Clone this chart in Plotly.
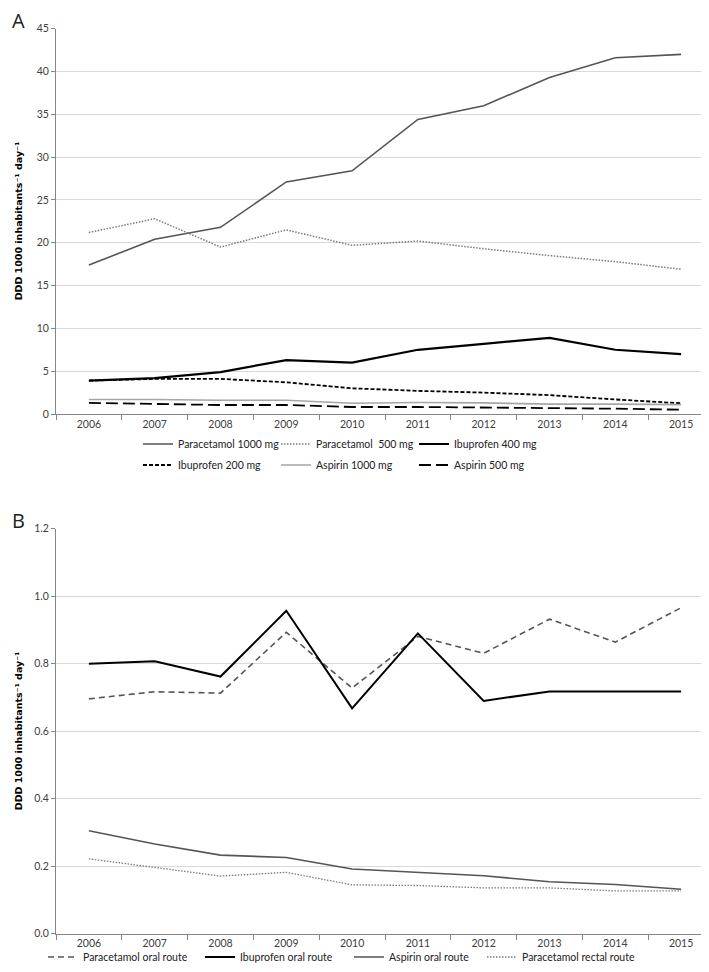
import plotly.graph_objects as go

years = ["2006", "2007", "2008", "2009", "2010", "2011", "2012", "2013", "2014", "2015"]

# Panel A
para_1000 = [17.4, 20.4, 21.8, 27.1, 28.4, 34.4, 36.0, 39.3, 41.6, 42.0]
para_500 = [21.2, 22.8, 19.5, 21.5, 19.7, 20.2, 19.3, 18.5, 17.8, 16.9]
ibu_400 = [3.9, 4.2, 4.9, 6.3, 6.0, 7.5, 8.2, 8.9, 7.5, 7.0]
ibu_200 = [3.9, 4.1, 4.1, 3.7, 3.0, 2.7, 2.5, 2.2, 1.7, 1.25]
asp_1000 = [1.7, 1.7, 1.6, 1.6, 1.25, 1.35, 1.3, 1.15, 1.15, 1.1]
asp_500 = [1.3, 1.15, 1.05, 1.05, 0.82, 0.82, 0.78, 0.74, 0.62, 0.5]

# Panel B
para_oral = [0.696, 0.717, 0.713, 0.893, 0.728, 0.881, 0.831, 0.932, 0.864, 0.966]
ibu_oral = [0.800, 0.807, 0.762, 0.957, 0.668, 0.890, 0.690, 0.718, 0.718, 0.718]
asp_oral = [0.305, 0.266, 0.233, 0.226, 0.192, 0.182, 0.172, 0.154, 0.146, 0.132]
para_rectal = [0.222, 0.196, 0.171, 0.182, 0.145, 0.143, 0.136, 0.136, 0.127, 0.127]

yticks_a = [0, 5, 10, 15, 20, 25, 30, 35, 40, 45]
yticks_b = [0.0, 0.2, 0.4, 0.6, 0.8, 1.0, 1.2]

W, H = 709, 972
FONT = "Lato"

fig = go.Figure()

def add(y, name, color, width, dash, xa, ya, legend, lw=None):
    fig.add_trace(go.Scatter(
        x=years, y=y, name=name, mode="lines",
        line=dict(color=color, width=width, dash=dash),
        xaxis=xa, yaxis=ya, legend=legend, hoverinfo="skip",
        legendwidth=lw,
    ))

add(para_1000, "Paracetamol 1000 mg", "#555555", 1.6, "solid", "x", "y", "legend")
add(para_500, "Paracetamol  500 mg", "#7a7a7a", 1.5, "1.5px,1.5px", "x", "y", "legend")
add(ibu_400, "Ibuprofen 400 mg", "#000000", 2.2, "solid", "x", "y", "legend")
add(ibu_200, "Ibuprofen 200 mg", "#000000", 1.8, "4px,2px", "x", "y", "legend2")
add(asp_1000, "Aspirin 1000 mg", "#a6a6a6", 1.6, "solid", "x", "y", "legend2")
add(asp_500, "Aspirin 500 mg", "#000000", 1.8, "12px,5px", "x", "y", "legend2")

add(para_oral, "Paracetamol oral route", "#555555", 1.6, "6px,4px", "x2", "y2", "legend3", 112)
add(ibu_oral, "Ibuprofen oral route", "#000000", 2.0, "solid", "x2", "y2", "legend3", 104)
add(asp_oral, "Aspirin oral route", "#555555", 1.6, "solid", "x2", "y2", "legend3", 88)
add(para_rectal, "Paracetamol rectal route", "#7a7a7a", 1.3, "1.5px,1.5px", "x2", "y2", "legend3", 110)

L, R = 48, 3
plot_w = W - L - R

def px_x(p):
    return (p - L) / plot_w

def px_y(p):
    return 1 - p / H

def ydom(top_px, bottom_px):
    return [px_y(bottom_px), px_y(top_px)]

axis_line = "#868686"
grid = "#d9d9d9"
tickfont = dict(family=FONT, size=10.5, color="#404040")

xcommon = dict(type="category", range=[-0.5, 9.5], showline=True, linecolor=axis_line,
               linewidth=1, ticks="outside", tickson="boundaries", ticklen=5,
               tickcolor=axis_line, showgrid=False, tickfont=tickfont, zeroline=False,
               fixedrange=True)
ycommon = dict(showline=True, linecolor=axis_line, linewidth=1, ticks="outside",
               ticklen=4, tickcolor=axis_line, showgrid=True, gridcolor=grid,
               gridwidth=1, tickfont=tickfont, zeroline=False, fixedrange=True)

legfont = dict(family=FONT, size=10.5, color="#222222")

fig.update_layout(
    width=W, height=H,
    margin=dict(l=L, r=R, t=0, b=0, autoexpand=False),
    paper_bgcolor="white", plot_bgcolor="white",
    xaxis=dict(**xcommon, domain=[0, 1], anchor="y"),
    yaxis=dict(**ycommon, domain=ydom(20.7, 406), range=[0, 45], tickvals=yticks_a, anchor="x"),
    xaxis2=dict(**xcommon, domain=[0, 1], anchor="y2"),
    yaxis2=dict(**ycommon, domain=ydom(520.7, 925.8), range=[0, 1.2], tickvals=yticks_b,
                tickformat=".1f", anchor="x2"),
    legend=dict(orientation="h", x=px_x(130), xanchor="left",
                y=px_y(436), yanchor="middle",
                entrywidth=93, font=legfont, bgcolor="rgba(0,0,0,0)",
                itemwidth=30, tracegroupgap=0),
    legend2=dict(orientation="h", x=px_x(130), xanchor="left",
                 y=px_y(457), yanchor="middle",
                 entrywidth=93, font=legfont, bgcolor="rgba(0,0,0,0)",
                 itemwidth=30, tracegroupgap=0),
    legend3=dict(orientation="h", x=332 / W, xref="container", xanchor="center",
                 y=px_y(949), yanchor="middle",
                 font=legfont, bgcolor="rgba(0,0,0,0)", itemwidth=30),
    showlegend=True,
)

ytitle = "DDD 1000 inhabitants\u207b\u00b9 day\u207b\u00b9"
for yref in ["y domain", "y2 domain"]:
    fig.add_annotation(text=ytitle, textangle=-90, xref="paper", x=px_x(10),
                       yref=yref, y=0.5, showarrow=False, xanchor="center", yanchor="middle",
                       font=dict(family="DejaVu Sans", size=9.5, color="#000000", weight="bold"))

for lbl, ypx in [("A", 12), ("B", 512)]:
    fig.add_annotation(text=lbl, xref="paper", x=px_x(10), yref="paper",
                       y=px_y(ypx), showarrow=False, xanchor="center", yanchor="middle",
                       font=dict(family="Open Sans", size=20, color="#222222"))

fig.write_html("out.html")
